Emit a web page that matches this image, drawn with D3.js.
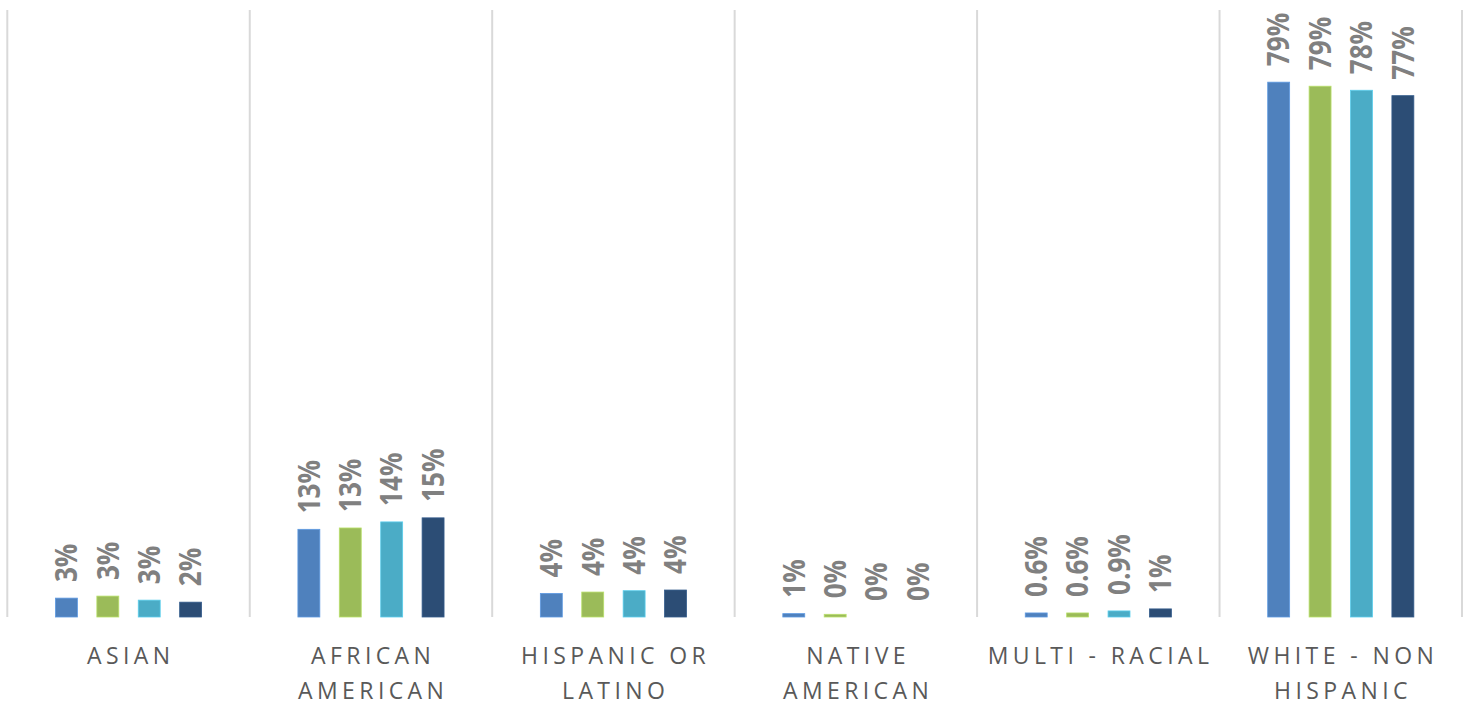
<!DOCTYPE html>
<html>
<head>
<meta charset="utf-8">
<script src="https://cdn.jsdelivr.net/npm/d3@7"></script>
<style>
  body { margin: 0; background: #fff; }
  svg { display: block; }
  .cat-label { font-family: "Open Sans", sans-serif; font-size: 23px; fill: #595959; letter-spacing: 4.4px; }
  .data-label { font-family: "Open Sans", sans-serif; font-size: 30px; font-weight: bold; fill: #808080; }
</style>
</head>
<body>
<svg></svg>
<script>
var categories = ['Asian', 'African American', 'Hispanic or Latino', 'Native American', 'Multi - Racial', 'White - Non Hispanic'];
var tickLabels = [['ASIAN'], ['AFRICAN', 'AMERICAN'], ['HISPANIC OR', 'LATINO'], ['NATIVE', 'AMERICAN'], ['MULTI - RACIAL'], ['WHITE - NON', 'HISPANIC']];
var seriesNames = ['Series 1', 'Series 2', 'Series 3', 'Series 4'];
var colors = ['#4f81bd', '#9bbb59', '#4bacc6', '#2c4d75'];

// percent values, one array per series (same order as categories)
var series1 = [2.8, 13.0, 3.5, 0.5, 0.6, 79.3];
var series2 = [3.1, 13.2, 3.7, 0.4, 0.6, 78.7];
var series3 = [2.5, 14.1, 3.9, 0.0, 0.9, 78.1];
var series4 = [2.2, 14.7, 4.0, 0.0, 1.2, 77.3];

// data labels as printed on the chart
var labels1 = ['3%', '13%', '4%', '1%', '0.6%', '79%'];
var labels2 = ['3%', '13%', '4%', '0%', '0.6%', '79%'];
var labels3 = ['3%', '14%', '4%', '0%', '0.9%', '78%'];
var labels4 = ['2%', '15%', '4%', '0%', '1%', '77%'];

var width = 1470;
var height = 702;
var svg = d3.select('svg').attr('width', width).attr('height', height);

var values = [series1, series2, series3, series4];
var labels = [labels1, labels2, labels3, labels4];

var data = categories.map(function(c, i) {
  return {
    category: c,
    bars: seriesNames.map(function(s, j) {
      return { series: s, value: values[j][i], label: labels[j][i], color: colors[j] };
    })
  };
});

var x0 = d3.scaleBand()
  .domain(categories)
  .range([7.3, 1462]);

var x1 = d3.scaleBand()
  .domain(seriesNames)
  .range([-82.8, 82.8])
  .paddingInner(0.47)
  .paddingOuter(0.235);

var y = d3.scaleLinear()
  .domain([0, 90])
  .range([617, 10]);

// vertical separators between categories
var edges = categories.map(function(c) { return x0(c); }).concat([x0.range()[1]]);
svg.append('g')
  .selectAll('line')
  .data(edges)
  .enter()
  .append('line')
    .attr('x1', d => d)
    .attr('x2', d => d)
    .attr('y1', y(90))
    .attr('y2', y(0))
    .attr('stroke', '#d9d9d9')
    .attr('stroke-width', 2);

var groups = svg.selectAll('.group')
  .data(data)
  .enter()
  .append('g')
    .classed('group', true)
    .attr('transform', d => `translate(${x0(d.category) + x0.bandwidth() / 2}, 0)`);

groups.selectAll('rect')
  .data(d => d.bars)
  .enter()
  .append('rect')
    .attr('x', d => x1(d.series))
    .attr('width', x1.bandwidth())
    .attr('y', d => y(d.value))
    .attr('height', d => y(0) - y(d.value))
    .attr('fill', d => d.color)
    .attr('stroke', d => d.value > 0 ? d3.color(d.color).brighter(0.5) : 'none')
    .attr('stroke-width', 0.8);

groups.selectAll('.data-label')
  .data(d => d.bars)
  .enter()
  .append('text')
    .attr('class', 'data-label')
    .attr('transform', d => `translate(${x1(d.series) + x1.bandwidth() / 2}, ${y(d.value) - 16}) rotate(-90) scale(0.87, 1)`)
    .attr('dy', '0.36em')
    .text(d => d.label);

// category axis labels
var ticks = svg.append('g')
  .selectAll('text')
  .data(categories)
  .enter()
  .append('text')
    .attr('class', 'cat-label')
    .attr('text-anchor', 'middle')
    .attr('x', d => x0(d) + x0.bandwidth() / 2 + 2.2)
    .attr('y', 664);

ticks.selectAll('tspan')
  .data((d, i) => tickLabels[i])
  .enter()
  .append('tspan')
    .attr('x', function() { return d3.select(this.parentNode).attr('x'); })
    .attr('dy', (d, i) => i === 0 ? 0 : 35)
    .text(d => d);
</script>
</body>
</html>
